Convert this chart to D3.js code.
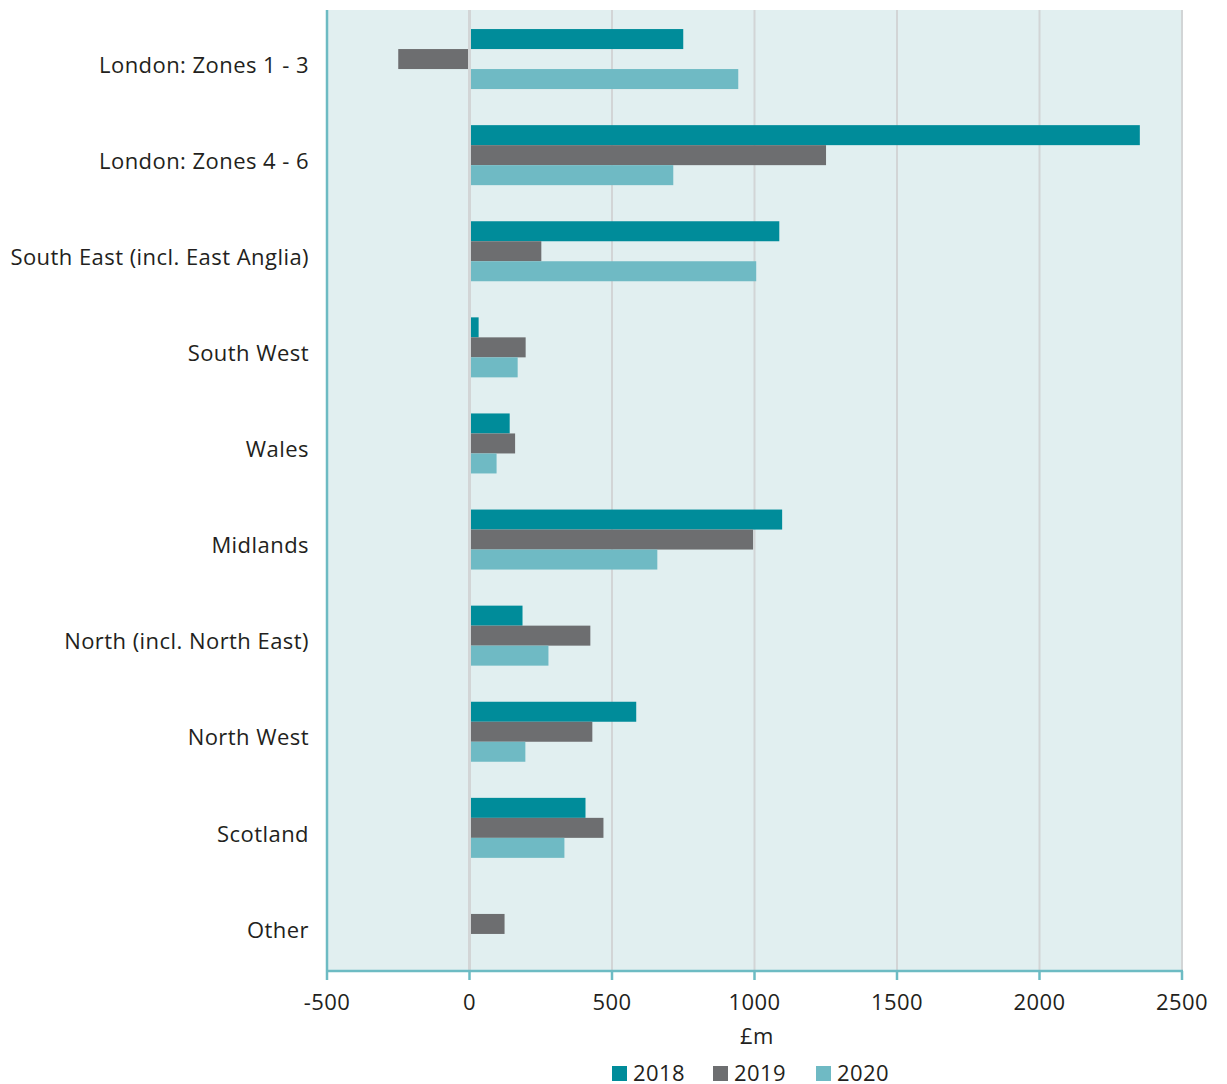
<!DOCTYPE html>
<html>
<head>
<meta charset="utf-8">
<script src="https://cdn.jsdelivr.net/npm/d3@7"></script>
<style>
  body { margin: 0; background: #fff; }
  text { font-family: "Open Sans", "Noto Sans", sans-serif; fill: #231f20; font-size: 22px; letter-spacing: 0.45px; }
</style>
</head>
<body>
<div class="chart"></div>
<script>
// data
var regions = ["London: Zones 1 - 3", "London: Zones 4 - 6", "South East (incl. East Anglia)",
  "South West", "Wales", "Midlands", "North (incl. North East)", "North West", "Scotland", "Other"];
var years = ["2018", "2019", "2020"];
var v2018 = [750, 2352, 1087, 32, 141, 1097, 186, 585, 407, 0];
var v2019 = [-250, 1251, 252, 197, 160, 995, 424, 431, 470, 123];
var v2020 = [943, 715, 1006, 169, 95, 659, 277, 196, 333, 0];
var xTicks = [-500, 0, 500, 1000, 1500, 2000, 2500];
var colors = ["#008c9a", "#6d6e70", "#6fbac4"];

// layout
var width = 1227, height = 1084;
var plotLeft = 327, plotRight = 1182, plotTop = 10, plotBottom = 971;

var svg = d3.select(".chart").append("svg")
  .attr("width", width)
  .attr("height", height);

var x = d3.scaleLinear().domain([-500, 2500]).range([plotLeft, plotRight]);
var y = d3.scaleBand().domain(regions).range([plotTop, plotBottom]);
var inner = d3.scaleBand().domain(years).range([-30, 30]);

// plot background
svg.append("rect")
  .attr("x", plotLeft).attr("y", plotTop)
  .attr("width", plotRight - plotLeft).attr("height", plotBottom - plotTop)
  .attr("fill", "#e1eff0");

// gridlines
svg.selectAll(".grid")
  .data(xTicks.slice(1))
  .enter().append("line")
  .attr("x1", d => x(d)).attr("x2", d => x(d))
  .attr("y1", plotTop).attr("y2", plotBottom)
  .attr("stroke", "#d2d5d6")
  .attr("stroke-width", d => d === 0 ? 3 : 2);

// bars
var series = [v2018, v2019, v2020];
series.forEach(function(vals, s) {
  svg.append("g").selectAll("rect")
    .data(vals)
    .enter().append("rect")
    .attr("x", d => d >= 0 ? x(0) + 1.5 : x(d))
    .attr("width", d => d >= 0 ? Math.max(0, x(d) - x(0) - 1.5) : x(0) - x(d) - 1.5)
    .attr("y", (d, i) => y(regions[i]) + y.bandwidth() / 2 + inner(years[s]) + 1)
    .attr("height", inner.bandwidth())
    .attr("fill", colors[s])
    .style("display", d => d === 0 ? "none" : null);
});

// category labels
svg.selectAll(".cat")
  .data(regions)
  .enter().append("text")
  .attr("x", 309)
  .attr("y", d => y(d) + y.bandwidth() / 2 + 7)
  .attr("dy", "0.35em")
  .attr("text-anchor", "end")
  .text(d => d);

// axes lines
svg.append("line")
  .attr("x1", plotLeft).attr("x2", plotLeft)
  .attr("y1", plotTop).attr("y2", plotBottom)
  .attr("stroke", "#6dbbc3").attr("stroke-width", 2.5);
svg.append("line")
  .attr("x1", plotLeft - 1).attr("x2", plotRight + 1)
  .attr("y1", plotBottom).attr("y2", plotBottom)
  .attr("stroke", "#6dbbc3").attr("stroke-width", 2.5);

svg.selectAll(".tick")
  .data(xTicks)
  .enter().append("line")
  .attr("x1", d => x(d)).attr("x2", d => x(d))
  .attr("y1", plotBottom).attr("y2", plotBottom + 9)
  .attr("stroke", "#6dbbc3").attr("stroke-width", 2.5);

svg.selectAll(".ticklabel")
  .data(xTicks)
  .enter().append("text")
  .attr("x", d => x(d))
  .attr("y", 1002)
  .attr("dy", "0.35em")
  .attr("text-anchor", "middle")
  .text(d => d);

// axis title
svg.append("text")
  .attr("x", 757).attr("y", 1036)
  .attr("dy", "0.35em")
  .attr("text-anchor", "middle")
  .text("£m");

// legend
var legendX = [612, 713, 816];
var legend = svg.selectAll(".legend")
  .data(years)
  .enter().append("g")
  .attr("transform", (d, i) => "translate(" + legendX[i] + ",1066)");
legend.append("rect")
  .attr("width", 15).attr("height", 15)
  .attr("fill", (d, i) => colors[i]);
legend.append("text")
  .attr("x", 21).attr("y", 15)
  .text(d => d);
</script>
</body>
</html>
